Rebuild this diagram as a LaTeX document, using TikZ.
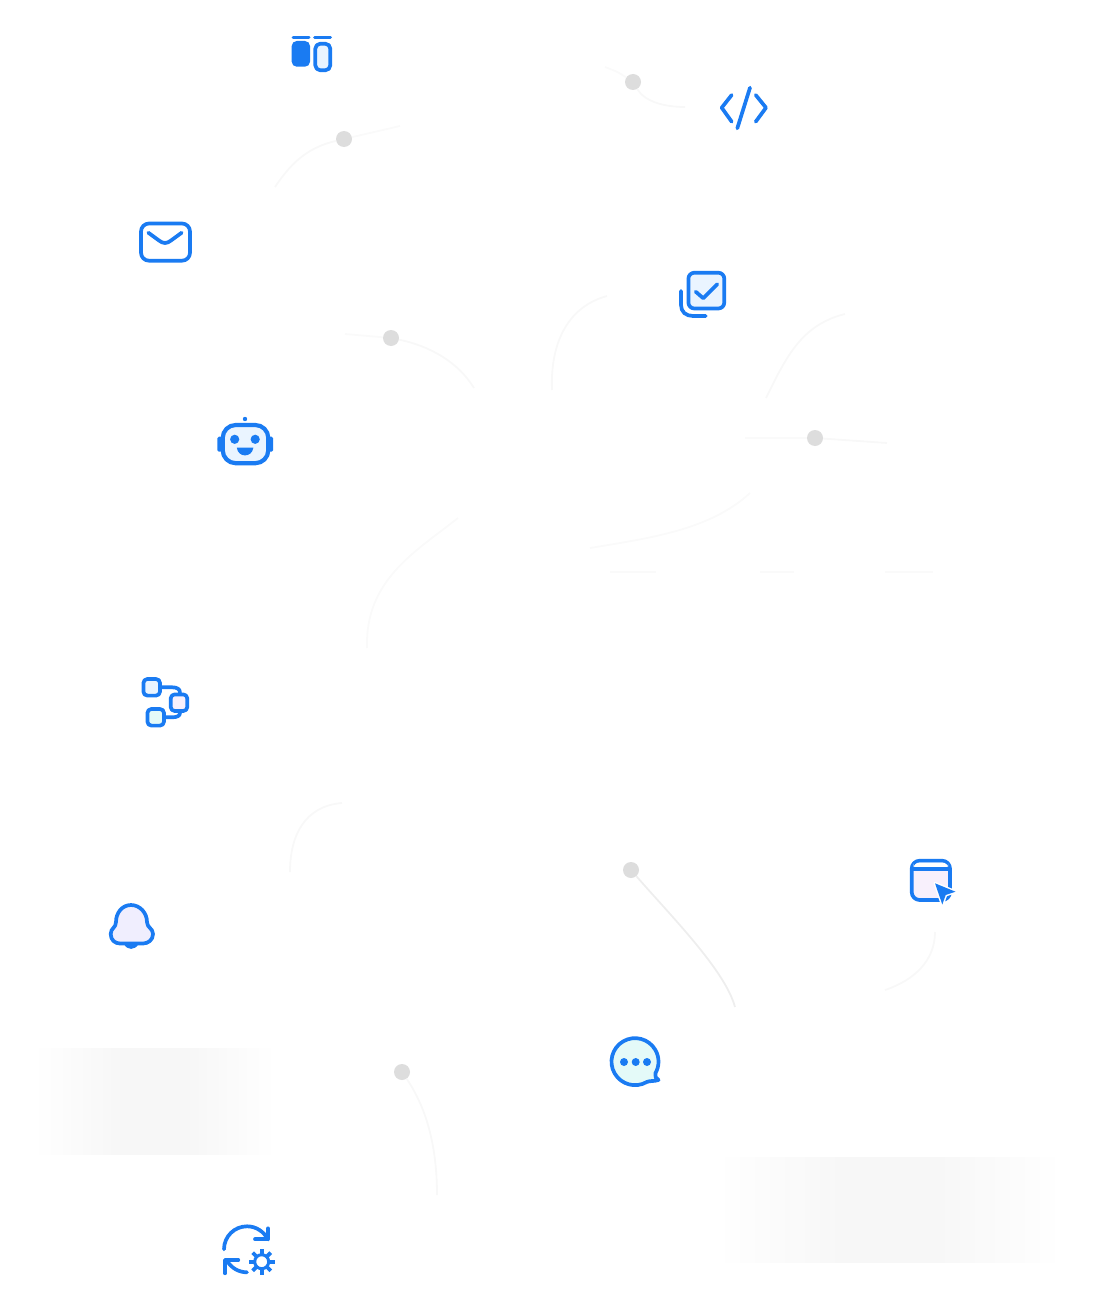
\documentclass[tikz,border=0pt]{standalone}
\usepackage{xcolor}
\definecolor{iconblue}{HTML}{1A7BF2}
\definecolor{paleblue}{HTML}{EAF4FF}
\definecolor{palepink}{HTML}{F8F0FC}
\definecolor{palecyan}{HTML}{E4FAF8}
\definecolor{palebell}{HTML}{F0EEFE}
\definecolor{dotgray}{HTML}{DDDDDD}
\definecolor{wiregray}{HTML}{F8F8F8}
\definecolor{faintgray}{HTML}{FAFAFA}
\definecolor{blurgray}{HTML}{F7F7F7}
\tikzset{
	dot/.style={circle, fill=dotgray, minimum size=16pt, inner sep=0pt},
	wire/.style={draw=wiregray, line width=1.8pt},
	faintwire/.style={draw=faintgray, line width=1.8pt},
	icon/.style={draw=iconblue, line width=3.7pt, line cap=round, line join=round}
}
\begin{document}
\begin{tikzpicture}[x=1pt,y=-1pt]
	\useasboundingbox (0,0) rectangle (1119,1303);
	% soft shadows
	\foreach \stepx in {0,...,59}{
		\pgfmathsetmacro{\tint}{min(100,100*\stepx/20)*min(1,(59-\stepx)/20)}
		\fill[blurgray!\tint!white] (35+4*\stepx,1048) rectangle (39.5+4*\stepx,1155);
	}
	\foreach \stepx in {0,...,69}{
		\pgfmathsetmacro{\tint}{min(100,100*\stepx/25)*min(1,(69-\stepx)/25)}
		\fill[blurgray!\tint!white] (715+5*\stepx,1157) rectangle (720.5+5*\stepx,1263);
	}
	% dots
	\node (D1) at (633,  82)	[dot]	{};
	\node (D2) at (344, 139)	[dot]	{};
	\node (D3) at (391, 338)	[dot]	{};
	\node (D4) at (815, 438)	[dot]	{};
	\node (D5) at (631, 870)	[dot]	{};
	\node (D6) at (402,1072)	[dot]	{};
	% free ends
	\coordinate (A1) at (605,  67);
	\coordinate (B1) at (685, 107);
	\coordinate (A2) at (400, 126);
	\coordinate (B2) at (275, 187);
	\coordinate (A3) at (345, 334);
	\coordinate (B3) at (474, 388);
	\coordinate (A4) at (745, 438);
	\coordinate (B4) at (887, 443);
	\coordinate (B5) at (735,1007);
	\coordinate (B6) at (437,1195);
	\coordinate (E1) at (607, 296);
	\coordinate (F1) at (552, 390);
	\coordinate (E2) at (845, 314);
	\coordinate (F2) at (766, 398);
	\coordinate (E3) at (458, 518);
	\coordinate (F3) at (367, 648);
	\coordinate (E4) at (750, 493);
	\coordinate (F4) at (590, 548);
	\coordinate (E5) at (342, 803);
	\coordinate (F5) at (290, 872);
	\coordinate (E6) at (935, 932);
	\coordinate (F6) at (885, 990);
	\coordinate (G1) at (610, 572);
	\coordinate (H1) at (656, 572);
	\coordinate (G2) at (760, 572);
	\coordinate (H2) at (794, 572);
	\coordinate (G3) at (885, 572);
	\coordinate (H3) at (933, 572);
	% faint curves
	\draw[faintwire] (A1) .. controls (618,72) .. (D1);
	\draw[wire] (D1) .. controls (645,102) and (665,107) .. (B1);
	\draw[faintwire] (A2) -- (D2);
	\draw[wire] (D2) .. controls (310,147) and (293,160) .. (B2);
	\draw[faintwire] (A3) -- (D3);
	\draw[wire] (D3) .. controls (430,346) and (458,362) .. (B3);
	\draw[faintwire] (A4) -- (D4);
	\draw[wire] (D4) -- (B4);
	\draw[wire, draw=wiregray!96!black] (D5) .. controls (670,915) and (725,970) .. (B5);
	\draw[wire] (D6) .. controls (428,1110) and (437,1150) .. (B6);
	\draw[wire] (E1) .. controls (570,306) and (550,340) .. (F1);
	\draw[wire] (E2) .. controls (800,325) and (785,360) .. (F2);
	\draw[faintwire] (E3) .. controls (415,552) and (365,580) .. (F3);
	\draw[faintwire] (E4) .. controls (710,530) and (650,538) .. (F4);
	\draw[wire] (E5) .. controls (305,806) and (290,835) .. (F5);
	\draw[wire] (E6) .. controls (935,960) and (915,980) .. (F6);
	\draw[faintwire] (G1) -- (H1);
	\draw[faintwire] (G2) -- (H2);
	\draw[faintwire] (G3) -- (H3);
	% panels
	\draw[icon, line width=3pt] (293,37.5) -- (309,37.5);
	\draw[icon, line width=3pt] (314.5,37.5) -- (330.5,37.5);
	\fill[iconblue, rounded corners=5pt] (291.7,41) rectangle (310,66.7);
	\draw[icon, fill=paleblue, rounded corners=5pt] (315.3,43.7) rectangle (330.3,70.3);
	% mail
	\draw[icon, fill=white, rounded corners=8pt] (141,223.5) rectangle (190,260.7);
	\draw[icon] (148.3,232.7) -- (159,240.5) .. controls (163,243.8) and (167,243.8) .. (171,240.5) -- (181.7,232.7);
	% code
	\draw[icon] (731.7,95) -- (721.7,107.7) -- (731.7,121.7);
	\draw[icon] (755.7,95) -- (766,107.7) -- (755.7,121.7);
	\draw[icon] (750,87.7) -- (737.3,128.3);
	% checked copy
	\draw[icon, fill=paleblue, rounded corners=6pt] (688.4,272.7) rectangle (724.3,308.5);
	\draw[icon] (695.7,291.7) -- (703.3,298.3) -- (717.3,284.3);
	\draw[icon] (681,291) -- (681,305) .. controls (681,312) and (686,316) .. (693,316) -- (705.7,316);
	% robot
	\fill[iconblue, rounded corners=1.5pt] (217.3,436.7) rectangle (222,451.7);
	\fill[iconblue, rounded corners=1.5pt] (268.5,436.7) rectangle (273.2,451.7);
	\fill[iconblue] (245,419) circle (2.2);
	\draw[icon, line width=4.2pt, fill=paleblue, rounded corners=13pt] (222.7,425) rectangle (268.3,463.2);
	\fill[iconblue] (234.7,439.3) circle (4.6);
	\fill[iconblue] (255.2,439.3) circle (4.6);
	\fill[iconblue] (236.8,447.6) .. controls (238,458) and (252,458) .. (253.4,447.6) -- cycle;
	% flow
	\draw[icon] (161.7,687.3) -- (172,687.3) .. controls (177,687.3) and (180,689) .. (180,692.7);
	\draw[icon] (165.7,717.3) -- (172,717.3) .. controls (177,717.3) and (180,716) .. (180,712.7);
	\draw[icon, fill=paleblue, rounded corners=4pt] (143.4,679) rectangle (160,695.6);
	\draw[icon, fill=palepink, rounded corners=4pt] (170.7,694.4) rectangle (187.3,711);
	\draw[icon, fill=palecyan, rounded corners=4pt] (147.4,709) rectangle (164,725.6);
	% bell
	\fill[iconblue] (124,944) .. controls (127,950.5) and (135,950.5) .. (138.5,944) -- cycle;
	\draw[icon, fill=palebell] (131,905) .. controls (122,905) and (116,913) .. (116,922)
		.. controls (116,928) and (110.7,928) .. (110.7,934)
		.. controls (110.7,940) and (115,943.5) .. (120,943.5) -- (143,943.5)
		.. controls (148,943.5) and (153,940) .. (153,934)
		.. controls (153,928) and (147,928) .. (147,922)
		.. controls (147,913) and (140,905) .. (131,905) -- cycle;
	% window
	\draw[icon, fill=palepink, rounded corners=8pt] (911.7,860.7) rectangle (950,900);
	\fill[white, rounded corners=6pt] (913.5,862.5) rectangle (948.2,869.3);
	\draw[icon, line cap=butt] (911.7,869.3) -- (950,869.3);
	\draw[white, line width=3pt, fill=white, line join=round] (935,883.3) -- (955.5,891.7) -- (945.7,895) -- (942.3,904.5) -- cycle;
	\fill[iconblue] (935,883.3) -- (955.5,891.7) -- (945.7,895) -- (942.3,904.5) -- cycle;
	% chat
	\draw[icon, fill=palecyan] (646.75,1082) arc[start angle=60, end angle=390, radius=23.5]
		.. controls (655,1076) and (655.5,1079) .. (658.5,1080)
		.. controls (654,1081.5) and (650,1080.5) .. (646.75,1082) -- cycle;
	\foreach \dotx in {624,635.7,647}
		\fill[iconblue] (\dotx,1062) circle (4);
	% sync and gear
	\draw[icon] (224,1249.3) arc[start angle=180, end angle=335, radius=23];
	\draw[icon] (268,1228.3) -- (268,1239.3) -- (255,1239.3);
	\draw[icon] (247,1272.3) arc[start angle=90, end angle=150, radius=23];
	\draw[icon] (225,1273.3) -- (225,1260) -- (238.3,1260);
	\foreach \gearangle in {0,45,...,315}
		\draw[iconblue, line width=3.8pt] (261.7,1261.7) ++(\gearangle:8) -- ++(\gearangle:4.8);
	\draw[iconblue, line width=3pt] (261.7,1261.7) circle (7);
\end{tikzpicture}
\end{document}
